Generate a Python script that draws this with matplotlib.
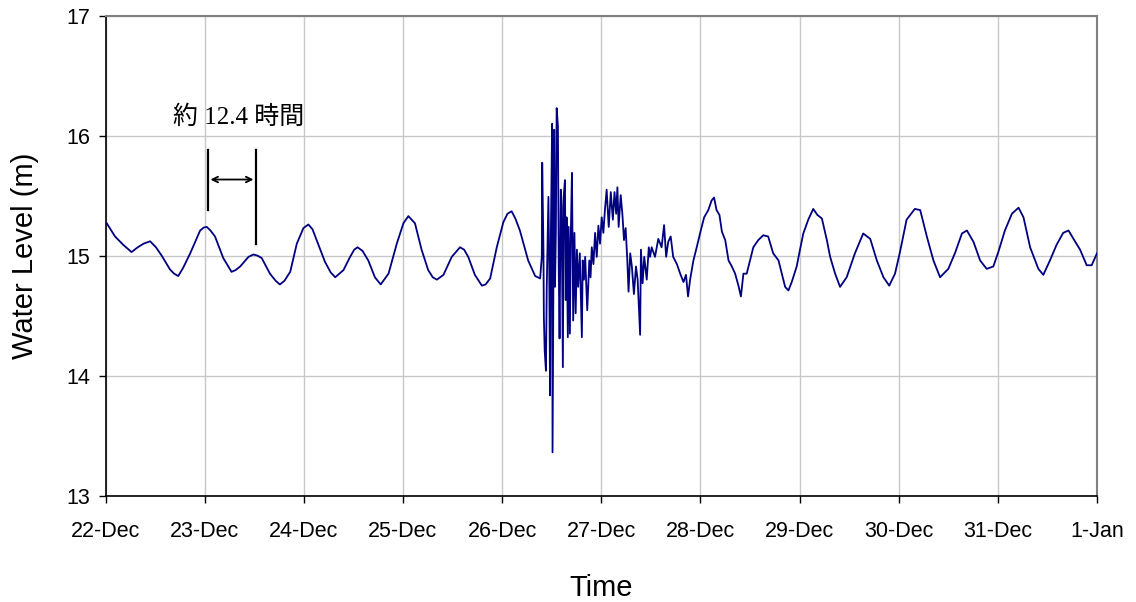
import numpy as np
import matplotlib
matplotlib.use("Agg")
import matplotlib.pyplot as plt

# hours since 22-Dec 00:00, water level (m)
hours = [
    0.3, 1.2, 2.3, 4.3, 6.3, 7.8, 9.2, 10.8, 12.2, 13.6,
    15.6, 16.6, 17.6, 18.8, 20.5, 22.9, 23.8, 24.5, 25.4, 26.5,
    28.5, 30.5, 31.5, 32.6, 34.6, 35.8, 36.8, 37.8, 39.8, 41.2,
    42.2, 43.3, 44.7, 46.3, 47.9, 49.1, 50.1, 51.1, 53.1, 54.5,
    55.6, 57.6, 59.2, 60.2, 61.0, 62.2, 63.6, 65.2, 66.6, 68.5,
    70.5, 72.1, 73.3, 74.9, 76.5, 78.1, 79.2, 80.2, 81.8, 83.8,
    85.8, 86.8, 87.8, 89.4, 91.1, 92.0, 93.1, 94.7, 96.3, 97.3,
    98.3, 99.2, 100.3, 102.3, 104.0, 105.2,
    # tsunami arrival
    105.6, 105.7, 106.0, 106.1, 106.3, 106.6, 106.8, 107.2, 107.4, 107.6,
    107.8, 108.1, 108.2, 108.6, 108.8, 109.0, 109.2, 109.5, 109.7, 109.9,
    110.2, 110.4, 110.7, 110.9, 111.2, 111.4, 111.6, 111.9, 112.1, 112.4,
    112.6, 112.9, 113.2, 113.5, 113.8, 114.1, 114.4, 114.8, 115.3, 115.5,
    115.8, 116.1, 116.6, 117.1, 117.4, 117.7, 118.1, 118.5, 118.9, 119.3,
    119.7, 120.1, 120.5, 120.9, 121.3, 121.8, 122.3, 122.8, 123.2, 123.6,
    123.9, 124.2, 124.7, 125.1, 125.5, 125.9, 126.3, 126.6, 127.0, 127.4,
    127.9, 128.4, 128.8, 129.1, 129.4, 129.6, 130.0, 130.4, 131.0, 131.5,
    131.8, 132.2, 133.0, 133.8, 134.6, 135.2, 135.7, 136.2, 136.8, 137.4,
    138.3, 139.1, 139.9, 140.5, 141.0, 141.5, 142.3, 143.1, 143.9, 144.9,
    145.9, 146.7, 147.3, 147.9, 148.6, 149.2, 150.0, 150.8, 151.6, 152.4,
    153.2, 153.8, 154.4, 155.2, 156.0, 156.8, 158.0, 159.2, 160.4, 161.6,
    162.9, 163.7, 164.5, 165.3, 166.1, 167.3, 168.1, 168.9, 170.1, 171.3,
    172.3, 173.4, 174.6, 175.4, 176.6, 177.8, 179.4, 181.4, 183.4, 185.1,
    186.7, 188.3, 189.7, 191.1, 192.3, 193.9, 195.9, 197.2, 198.8, 200.4,
    202.0, 204.0, 205.6, 207.3, 208.5, 210.1, 211.7, 213.3, 214.9, 216.1,
    217.7, 219.4, 221.0, 222.2, 223.8, 225.8, 227.0, 228.6, 230.2, 231.8,
    233.1, 234.3, 235.9, 237.5, 238.7, 240.0,
]
level = [
    15.27, 15.22, 15.16, 15.09, 15.03, 15.07, 15.10, 15.12, 15.07, 15.00,
    14.885, 14.85, 14.83, 14.90, 15.02, 15.21, 15.235, 15.24, 15.21, 15.16,
    14.98, 14.865, 14.88, 14.91, 14.99, 15.01, 15.00, 14.98, 14.85, 14.79,
    14.76, 14.79, 14.865, 15.10, 15.23, 15.26, 15.22, 15.13, 14.95, 14.86,
    14.82, 14.88, 14.99, 15.05, 15.07, 15.04, 14.96, 14.82, 14.76, 14.85,
    15.10, 15.27, 15.33, 15.27, 15.05, 14.88, 14.82, 14.80, 14.84, 14.99,
    15.07, 15.05, 14.99, 14.84, 14.75, 14.76, 14.81, 15.07, 15.28, 15.35,
    15.37, 15.31, 15.21, 14.96, 14.83, 14.81,
    14.99, 15.775, 15.05, 14.49, 14.21, 14.04, 14.74, 15.49, 14.91, 13.835,
    15.19, 16.10, 13.36, 16.05, 14.74, 15.19, 16.23, 16.08, 14.91, 14.31,
    15.55, 15.41, 14.07, 15.49, 15.63, 14.63, 15.32, 14.32, 15.24, 14.35,
    15.13, 15.69, 14.46, 15.19, 14.52, 15.05, 14.74, 15.02, 14.32, 14.96,
    14.80, 14.99, 14.545, 14.96, 14.82, 15.07, 14.93, 15.19, 14.99, 15.25,
    15.10, 15.32, 15.19, 15.39, 15.55, 15.24, 15.53, 15.30, 15.53, 15.35,
    15.57, 15.24, 15.505, 15.35, 15.13, 15.23, 14.96, 14.70, 15.02, 14.91,
    14.68, 14.91, 14.80, 14.57, 14.34, 15.05, 14.77, 14.99, 14.80, 15.07,
    14.99, 15.07, 14.99, 15.14, 15.07, 15.255, 14.99, 15.115, 15.16, 14.99,
    14.93, 14.85, 14.78, 14.84, 14.66, 14.80, 14.96, 15.07, 15.185, 15.32,
    15.38, 15.46, 15.485, 15.38, 15.34, 15.20, 15.13, 14.96, 14.91, 14.85,
    14.75, 14.66, 14.85, 14.85, 14.96, 15.07, 15.13, 15.17, 15.16, 15.02,
    14.96, 14.85, 14.74, 14.71, 14.78, 14.91, 15.05, 15.185, 15.30, 15.39,
    15.34, 15.31, 15.13, 14.99, 14.85, 14.74, 14.82, 15.02, 15.185, 15.14,
    14.96, 14.82, 14.75, 14.85, 15.03, 15.30, 15.39, 15.38, 15.16, 14.96,
    14.82, 14.89, 15.02, 15.185, 15.21, 15.115, 14.96, 14.89, 14.91, 15.03,
    15.21, 15.35, 15.40, 15.32, 15.07, 14.89, 14.84, 14.96, 15.09, 15.19,
    15.21, 15.14, 15.05, 14.92, 14.92, 15.02,
]
tick_labels = ["22-Dec", "23-Dec", "24-Dec", "25-Dec", "26-Dec", "27-Dec",
               "28-Dec", "29-Dec", "30-Dec", "31-Dec", "1-Jan"]
y_ticks = [13, 14, 15, 16, 17]

# period marker (days since 22-Dec)
mark_start, mark_end = 1.03, 1.52

fig = plt.figure(figsize=(11.36, 6.02), dpi=100)
ax = fig.add_axes([0.0929, 0.1769, 0.8728, 0.7968])

t = np.array(hours) / 24.0
ax.plot(t, level, color="#000080", lw=1.3, zorder=3)

ax.set_xlim(0, 10)
ax.set_ylim(13, 17)
ax.set_xticks(range(len(tick_labels)))
ax.set_xticklabels(tick_labels)
ax.set_yticks(y_ticks)
ax.grid(True, color="#c8c8c8", lw=1.0)
ax.set_axisbelow(True)

for s in ("top", "right"):
    ax.spines[s].set_color("#808080")
    ax.spines[s].set_linewidth(1.5)
for s in ("left", "bottom"):
    ax.spines[s].set_color("#000000")
    ax.spines[s].set_linewidth(1.2)

ax.tick_params(axis="both", direction="out", length=5, width=1, color="#000000",
               labelsize=15.5)
ax.tick_params(axis="x", pad=13)
ax.tick_params(axis="y", pad=6)
for lab in ax.get_xticklabels() + ax.get_yticklabels():
    lab.set_family("Liberation Sans")

ax.set_xlabel("Time", fontsize=21, family="Liberation Sans")
ax.set_ylabel("Water Level (m)", fontsize=21, family="Liberation Sans")
ax.xaxis.set_label_coords(0.5, -0.193)
ax.yaxis.set_label_coords(-0.081, 0.5)
ax.xaxis.label.set_va("center")
ax.yaxis.label.set_va("center")

# annotation
ax.plot([mark_start, mark_start], [15.38, 15.88], color="black", lw=1.6)
ax.plot([mark_end, mark_end], [15.10, 15.88], color="black", lw=1.6)
ax.annotate("", xy=(mark_end, 15.635), xytext=(mark_start, 15.635),
            arrowprops=dict(arrowstyle="<->", color="black", lw=1.3))
ax.text(1.339, 16.157, "約 12.4 時間", ha="center", va="center", fontsize=18,
        family=["Liberation Serif", "Noto Sans CJK JP"])

fig.savefig("out.png", dpi=100)
